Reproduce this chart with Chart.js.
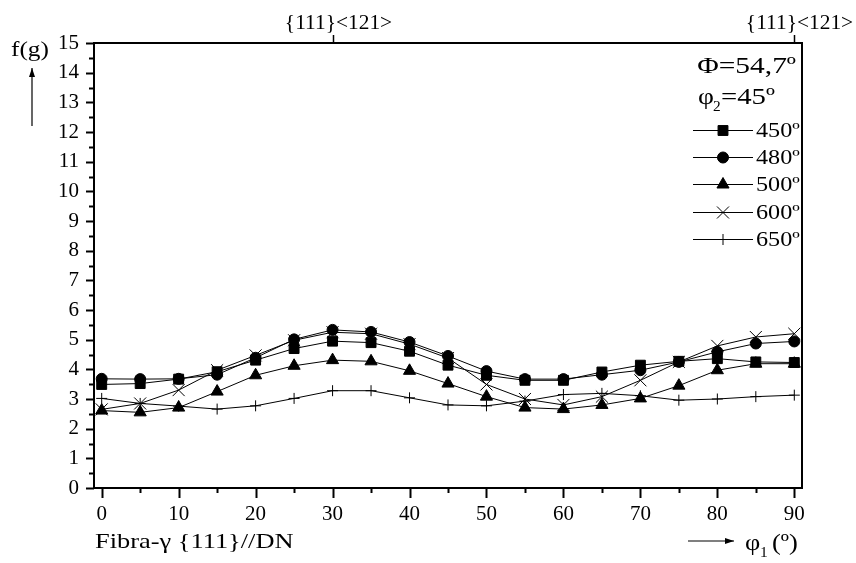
<!DOCTYPE html>
<html>
<head>
<meta charset="utf-8">
<script src="https://cdn.jsdelivr.net/npm/chart.js@4/dist/chart.umd.min.js"></script>
<style>
  html, body { margin: 0; padding: 0; background: #fff; }
  #wrap { width: 856px; height: 563px; }
</style>
</head>
<body>
<div id="wrap"><canvas id="chart1"></canvas></div>
<script>
// phi1 angles (deg) and f(g) for each annealing temperature
var phi1 = [0, 5, 10, 15, 20, 25, 30, 35, 40, 45, 50, 55, 60, 65, 70, 75, 80, 85, 90];
var s450 = [3.49, 3.52, 3.67, 3.92, 4.31, 4.70, 4.95, 4.90, 4.61, 4.14, 3.80, 3.63, 3.63, 3.91, 4.14, 4.27, 4.36, 4.25, 4.23];
var s480 = [3.68, 3.67, 3.68, 3.82, 4.39, 5.01, 5.33, 5.26, 4.92, 4.45, 3.94, 3.67, 3.67, 3.82, 3.97, 4.25, 4.59, 4.87, 4.94];
var s500 = [2.61, 2.55, 2.71, 3.25, 3.80, 4.12, 4.31, 4.27, 3.95, 3.52, 3.08, 2.71, 2.66, 2.80, 3.02, 3.45, 3.97, 4.19, 4.19];
var s600 = [2.65, 2.85, 3.30, 3.97, 4.47, 4.98, 5.25, 5.20, 4.85, 4.38, 3.49, 3.00, 2.80, 3.08, 3.63, 4.25, 4.79, 5.09, 5.20];
var s650 = [3.02, 2.85, 2.76, 2.66, 2.77, 3.02, 3.28, 3.28, 3.04, 2.80, 2.77, 2.93, 3.15, 3.19, 3.11, 2.96, 3.00, 3.08, 3.13];
var seriesLabels = ["450º", "480º", "500º", "600º", "650º"];
var xTicks = [0, 10, 20, 30, 40, 50, 60, 70, 80, 90];
var topMarks = [30, 90];
var topLabel = "{111}<121>";

var FONT = "'Liberation Serif', 'Times New Roman', serif";

function pts(vals) {
  return phi1.map(function (x, i) { return {x: x, y: vals[i]}; });
}

function mkSet(label, vals, style, r) {
  return {
    label: label,
    data: pts(vals),
    borderColor: "#000",
    backgroundColor: "#000",
    borderWidth: 1,
    pointStyle: style,
    pointRadius: r,
    pointBorderWidth: 1,
    pointBackgroundColor: "#000",
    pointBorderColor: "#000",
    showLine: true,
    tension: 0
  };
}

var datasets = [
  mkSet(seriesLabels[0], s450, "rect", 7),
  mkSet(seriesLabels[1], s480, "circle", 5.5),
  mkSet(seriesLabels[2], s500, "triangle", 7),
  mkSet(seriesLabels[3], s600, "crossRot", 8.5),
  mkSet(seriesLabels[4], s650, "cross", 5.5)
];

// text drawn a bit wider than the font, like the scanned figure
function wtext(ctx, txt, x, y, size, sx, align) {
  ctx.save();
  ctx.font = size + "px " + FONT;
  var w = ctx.measureText(txt).width * sx;
  var x0 = x;
  if (align === "right") x0 = x - w;
  if (align === "center") x0 = x - w / 2;
  ctx.translate(x0, y);
  ctx.scale(sx, 1);
  ctx.textAlign = "left";
  ctx.fillText(txt, 0, 0);
  ctx.restore();
  return w;
}

function arrow(ctx, x1, y1, x2, y2) {
  ctx.beginPath();
  ctx.moveTo(x1, y1);
  ctx.lineTo(x2, y2);
  ctx.stroke();
  var a = Math.atan2(y2 - y1, x2 - x1);
  ctx.beginPath();
  ctx.moveTo(x2, y2);
  ctx.lineTo(x2 - 9 * Math.cos(a) + 3 * Math.sin(a), y2 - 9 * Math.sin(a) - 3 * Math.cos(a));
  ctx.lineTo(x2 - 9 * Math.cos(a) - 3 * Math.sin(a), y2 - 9 * Math.sin(a) + 3 * Math.cos(a));
  ctx.closePath();
  ctx.fill();
}

var decor = {
  id: "decor",
  afterDraw: function (chart) {
    var ctx = chart.ctx, a = chart.chartArea;
    var xs = chart.scales.x, ys = chart.scales.y;
    ctx.save();
    ctx.strokeStyle = "#000";
    ctx.fillStyle = "#000";

    // frame
    ctx.lineWidth = 2;
    ctx.strokeRect(a.left, a.top, a.right - a.left, a.bottom - a.top);

    // y ticks
    for (var v = 0; v <= 15; v += 0.5) {
      var py = Math.round(ys.getPixelForValue(v)) + 0.5;
      var len = (v % 1 === 0) ? 8 : 5;
      ctx.beginPath();
      ctx.moveTo(a.left, py);
      ctx.lineTo(a.left - len, py);
      ctx.stroke();
    }
    // x ticks
    for (var t = 0; t <= 90; t += 5) {
      var px = Math.round(xs.getPixelForValue(t)) + 0.5;
      var l2 = (t % 10 === 0) ? 10 : 5;
      ctx.beginPath();
      ctx.moveTo(px, a.bottom);
      ctx.lineTo(px, a.bottom + l2);
      ctx.stroke();
    }
    // top marks
    ctx.lineWidth = 1.5;
    ctx.textBaseline = "middle";
    topMarks.forEach(function (m) {
      var px = Math.round(xs.getPixelForValue(m)) + 0.5;
      ctx.beginPath();
      ctx.moveTo(px, a.top);
      ctx.lineTo(px, a.top - 8);
      ctx.stroke();
      wtext(ctx, topLabel, Math.min(px + 5, 856 - 56), 24, 20, 1.07, "center");
    });

    // axis titles
    ctx.lineWidth = 1.2;
    ctx.textBaseline = "alphabetic";
    wtext(ctx, "f(g)", 11, 56, 22, 1.15, "left");
    arrow(ctx, 32, 126, 32, 68);
    wtext(ctx, "Fibra-\u03b3 {111}//DN", 95, 548, 22, 1.2, "left");
    arrow(ctx, 688, 541, 734, 541);
    wtext(ctx, "\u03c6", 745, 550, 23, 1.15, "left");
    wtext(ctx, "1", 760, 557, 14, 1.1, "left");
    wtext(ctx, "(\u00ba)", 772, 550, 23, 1.15, "left");

    // annotation + legend
    wtext(ctx, "\u03a6=54,7\u00ba", 796, 73, 23, 1.28, "right");
    wtext(ctx, "\u03c6", 698, 104, 23, 1.2, "left");
    wtext(ctx, "2", 713, 111, 14, 1.1, "left");
    wtext(ctx, "=45\u00ba", 721, 104, 23, 1.25, "left");

    ctx.textBaseline = "middle";
    var rows = [130, 157, 184, 212, 239];
    chart.data.datasets.forEach(function (ds, i) {
      var y = rows[i];
      ctx.lineWidth = 1;
      ctx.beginPath();
      ctx.moveTo(693, y + 0.5);
      ctx.lineTo(753, y + 0.5);
      ctx.stroke();
      Chart.helpers.drawPoint(ctx, {
        pointStyle: ds.pointStyle, radius: ds.pointRadius, rotation: 0, borderWidth: 1
      }, 723, y + 0.5);
      wtext(ctx, ds.label, 756, y + 1, 22, 1.1, "left");
    });
    ctx.restore();
  }
};

new Chart(document.getElementById("chart1"), {
  type: "scatter",
  data: { datasets: datasets },
  options: {
    responsive: true,
    maintainAspectRatio: false,
    animation: false,
    layout: { padding: { left: 0, top: 43, right: 54, bottom: 0 } },
    plugins: {
      legend: { display: false },
      tooltip: { enabled: false }
    },
    scales: {
      x: {
        type: "linear",
        min: -1,
        max: 91,
        afterFit: function (s) { s.height = 75; },
        afterBuildTicks: function (s) {
          s.ticks = xTicks.map(function (v) { return {value: v}; });
        },
        grid: { display: false, drawTicks: false },
        border: { display: false },
        ticks: {
          autoSkip: false,
          maxRotation: 0,
          padding: 14,
          color: "#000",
          font: { family: FONT, size: 21 }
        }
      },
      y: {
        min: 0,
        max: 15,
        afterFit: function (s) { s.width = 94; },
        grid: { display: false, drawTicks: false },
        border: { display: false },
        ticks: {
          stepSize: 1,
          padding: 15,
          color: "#000",
          font: { family: FONT, size: 21 }
        }
      }
    }
  },
  plugins: [decor]
});
</script>
</body>
</html>
